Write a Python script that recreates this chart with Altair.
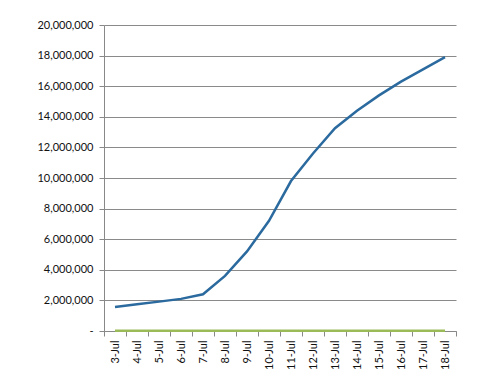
import altair as alt
import pandas as pd

days = ["3-Jul", "4-Jul", "5-Jul", "6-Jul", "7-Jul", "8-Jul", "9-Jul", "10-Jul",
        "11-Jul", "12-Jul", "13-Jul", "14-Jul", "15-Jul", "16-Jul", "17-Jul", "18-Jul"]
series_a = [1570000, 1750000, 1920000, 2100000, 2400000, 3600000, 5200000, 7200000,
            9800000, 11600000, 13250000, 14400000, 15400000, 16300000, 17100000, 17900000]
series_b = [20000] * 16

df = pd.DataFrame({
    "day": days * 2,
    "value": series_a + series_b,
    "series": ["A"] * 16 + ["B"] * 16,
})

x = alt.X("day:O", sort=days, bandPosition=0.5,
          scale=alt.Scale(type="band", paddingInner=0, paddingOuter=0),
          axis=alt.Axis(title=None, labelAngle=-90, tickBand="extent", domainColor="#888888",
                        tickColor="#888888", tickSize=5, labelFont="Lato", labelFontSize=11,
                        labelColor="#111111", labelPadding=4))
y = alt.Y("value:Q", scale=alt.Scale(domain=[0, 20000000], nice=False),
          axis=alt.Axis(title=None, values=list(range(0, 20000001, 2000000)),
                        labelExpr="datum.value == 0 ? '-' : format(datum.value, ',')",
                        gridColor="#8a8a8a", domainColor="#888888", tickColor="#888888",
                        tickSize=5, labelFont="Lato", labelFontSize=11, labelColor="#111111",
                        labelPadding=6))

chart = alt.Chart(df).mark_line(strokeWidth=2.5).encode(
    x=x, y=y,
    color=alt.Color("series:N", scale=alt.Scale(domain=["A", "B"], range=["#2B6A9E", "#9BBB59"]),
                    legend=None),
).properties(
    width=352, height=306,
    autosize=alt.AutoSizeParams(type="none"),
    padding={"left": 96, "top": 17, "right": 16, "bottom": 40},
).configure_view(stroke=None)

chart.save("out.html", embed_options={"renderer": "svg", "actions": False})
